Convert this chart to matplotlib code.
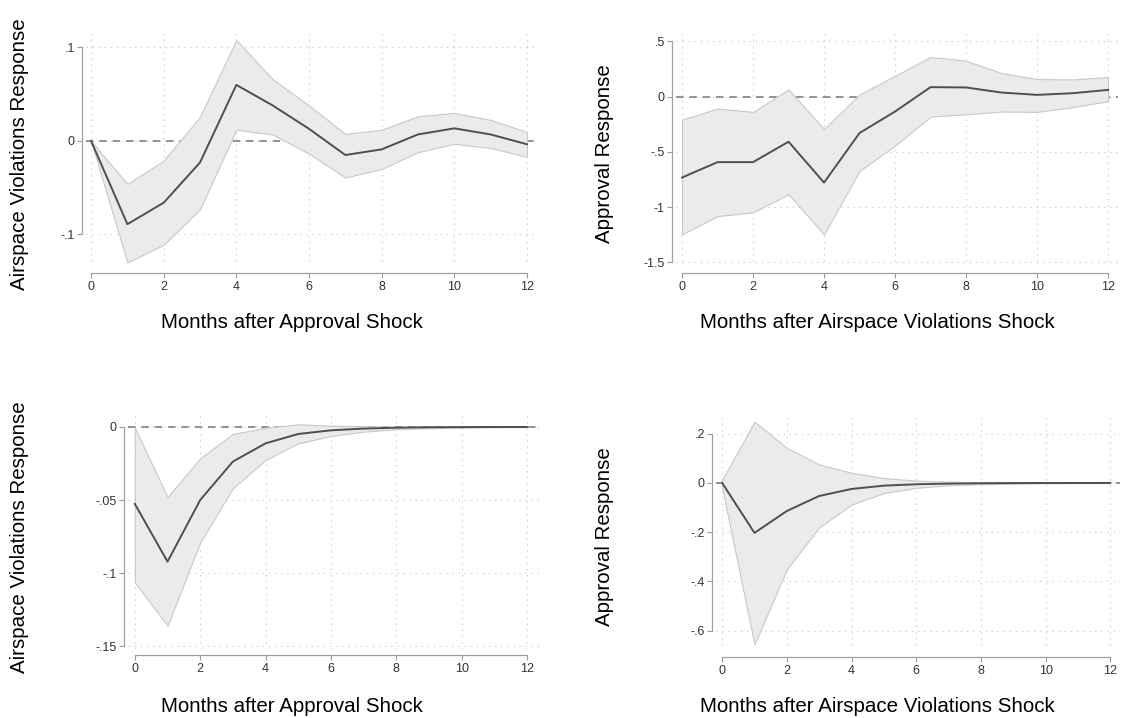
import numpy as np
import matplotlib
matplotlib.use('Agg')
import matplotlib.pyplot as plt

plt.rcParams['font.family'] = ['Liberation Sans', 'DejaVu Sans']

months = list(range(13))

# top left: airspace violations response to approval shock
p1_irf = [0, -0.089, -0.066, -0.023, 0.060, 0.038, 0.013, -0.015, -0.009, 0.007, 0.0135, 0.007, -0.0035]
p1_upper = [0, -0.046, -0.021, 0.026, 0.108, 0.066, 0.038, 0.0075, 0.012, 0.0265, 0.030, 0.0225, 0.0097]
p1_lower = [0, -0.130, -0.111, -0.073, 0.012, 0.007, -0.0135, -0.039, -0.030, -0.012, -0.003, -0.0075, -0.017]

# top right: approval response to airspace violations shock
p2_irf = [-0.733, -0.594, -0.594, -0.409, -0.779, -0.330, -0.136, 0.085, 0.082, 0.036, 0.015, 0.030, 0.060]
p2_upper = [-0.210, -0.109, -0.139, 0.064, -0.294, 0.018, 0.188, 0.358, 0.324, 0.212, 0.158, 0.155, 0.176]
p2_lower = [-1.248, -1.082, -1.048, -0.885, -1.248, -0.673, -0.445, -0.182, -0.161, -0.136, -0.139, -0.097, -0.042]

# bottom left
p3_irf = [-0.0527, -0.0922, -0.050, -0.0237, -0.0112, -0.0048, -0.0023, -0.0011, -0.0005, -0.0002, -0.0001, 0, 0]
p3_upper = [-0.0005, -0.048, -0.0215, -0.0048, -0.0005, 0.0018, 0.0009, 0.0005, 0.0002, 0.0001, 0, 0, 0]
p3_lower = [-0.1064, -0.136, -0.079, -0.042, -0.0226, -0.0112, -0.0062, -0.0032, -0.0016, -0.0008, -0.0004, -0.0002, -0.0001]

# bottom right
p4_irf = [0, -0.203, -0.114, -0.053, -0.0245, -0.011, -0.0054, -0.0027, -0.0013, -0.0006, -0.0003, -0.0001, 0]
p4_upper = [0.012, 0.249, 0.143, 0.075, 0.041, 0.020, 0.0095, 0.0054, 0.0027, 0.0013, 0.0006, 0.0003, 0.0001]
p4_lower = [-0.02, -0.656, -0.351, -0.181, -0.088, -0.041, -0.020, -0.0095, -0.0054, -0.0027, -0.0013, -0.0006, -0.0003]

xticks = [0, 2, 4, 6, 8, 10, 12]
p1_yticks = [-0.1, 0, 0.1]
p1_ylabels = ['-.1', '0', '.1']
p2_yticks = [-1.5, -1, -0.5, 0, 0.5]
p2_ylabels = ['-1.5', '-1', '-.5', '0', '.5']
p3_yticks = [-0.15, -0.1, -0.05, 0]
p3_ylabels = ['-.15', '-.1', '-.05', '0']
p4_yticks = [-0.6, -0.4, -0.2, 0, 0.2]
p4_ylabels = ['-.6', '-.4', '-.2', '0', '.2']

W, H = 1122, 718
fig = plt.figure(figsize=(W / 100, H / 100), dpi=100)


def px_axes(left, top, right, bottom):
    return fig.add_axes([left / W, 1 - bottom / H, (right - left) / W, (bottom - top) / H])


def draw_panel(ax, irf, lo, hi, yticks, ylabels, xlim, ylim):
    ax.set_xlim(*xlim)
    ax.set_ylim(*ylim)
    for t in xticks:
        ax.axvline(t, color='#c4c4c4', lw=0.8, ls=(0, (1, 4.5)), zorder=0)
    for t in yticks:
        ax.axhline(t, color='#c4c4c4', lw=0.8, ls=(0, (1, 4.5)), zorder=0)
    ax.axhline(0, color='#808080', lw=1.2, ls=(0, (4.5, 3.5)), zorder=1)
    ax.fill_between(months, lo, hi, facecolor='#ebebeb', edgecolor='#c8c8c8', lw=0.8, zorder=2)
    ax.plot(months, irf, color='#4f4f4f', lw=1.4, zorder=3)
    ax.set_xticks(xticks)
    ax.set_yticks(yticks)
    ax.set_yticklabels(ylabels)
    ax.tick_params(axis='both', labelsize=9, colors='#9a9a9a', labelcolor='#333333',
                   length=3.6, width=0.8, direction='out')
    ax.tick_params(axis='y', pad=1.5)
    ax.tick_params(axis='x', pad=2.5)
    for s in ['top', 'right']:
        ax.spines[s].set_visible(False)
    ax.spines['left'].set_position(('outward', 3))
    ax.spines['bottom'].set_position(('outward', 4))
    ax.spines['left'].set_bounds(yticks[0], yticks[-1])
    ax.spines['bottom'].set_bounds(0, 12)
    for s in ['left', 'bottom']:
        ax.spines[s].set_color('#a0a0a0')
        ax.spines[s].set_linewidth(0.9)
    ax.patch.set_alpha(0)


ax1 = px_axes(86, 33, 536, 267)
draw_panel(ax1, p1_irf, p1_lower, p1_upper, p1_yticks, p1_ylabels,
           (-0.14, 12.25), (-0.1348, 0.1155))
ax2 = px_axes(676, 33, 1118, 267)
draw_panel(ax2, p2_irf, p2_lower, p2_upper, p2_yticks, p2_ylabels,
           (-0.17, 12.28), (-1.543, 0.575))
ax3 = px_axes(128, 415, 539, 649)
draw_panel(ax3, p3_irf, p3_lower, p3_upper, p3_yticks, p3_ylabels,
           (-0.21, 12.37), (-0.152, 0.0082))
ax4 = px_axes(716, 417, 1120, 651)
draw_panel(ax4, p4_irf, p4_lower, p4_upper, p4_yticks, p4_ylabels,
           (-0.19, 12.3), (-0.683, 0.268))

lab = dict(fontsize=14.8, color='black', ha='center', va='center')
fig.text(20 / W, 1 - 154 / H, 'Airspace Violations Response', rotation=90, **lab)
fig.text(604 / W, 1 - 154 / H, 'Approval Response', rotation=90, **lab)
fig.text(20 / W, 1 - 537 / H, 'Airspace Violations Response', rotation=90, **lab)
fig.text(604 / W, 1 - 537 / H, 'Approval Response', rotation=90, **lab)
fig.text(292 / W, 1 - 322 / H, 'Months after Approval Shock', **lab)
fig.text(877 / W, 1 - 322 / H, 'Months after Airspace Violations Shock', **lab)
fig.text(292 / W, 1 - 706 / H, 'Months after Approval Shock', **lab)
fig.text(877 / W, 1 - 706 / H, 'Months after Airspace Violations Shock', **lab)

fig.savefig('out.png', dpi=100)
